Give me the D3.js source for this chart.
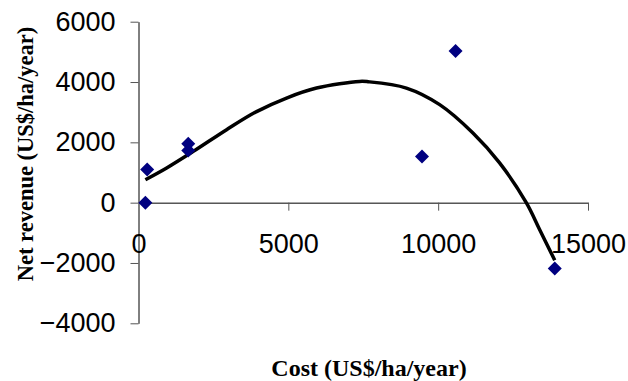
<!DOCTYPE html>
<html>
<head>
<meta charset="utf-8">
<script src="https://cdn.jsdelivr.net/npm/d3@7"></script>
<style>
  html, body { margin: 0; padding: 0; background: #fff; }
  svg { display: block; }
</style>
</head>
<body>
<svg id="chart" width="628" height="381"></svg>
<script>
// Data
const costs   = [230, 290, 1660, 1660, 9460, 10580, 13890];
const revenue = [0, 1100, 1950, 1730, 1530, 5025, -2180];

// Trendline samples
const trendX = [230, 940, 1830, 2940, 3940, 4940, 5940, 7380, 7660, 8940, 10050, 11160, 12050, 12940, 13380, 13890];
const trendY = [760, 1150, 1700, 2420, 3020, 3470, 3800, 4020, 4010, 3800, 3250, 2310, 1320, 0, -880, -1910];

const xTicks = [0, 5000, 10000, 15000];
const yTicks = [-4000, -2000, 0, 2000, 4000, 6000];

const xTitle = "Cost (US$/ha/year)";
const yTitle = "Net revenue (US$/ha/year)";

const svg = d3.select("#chart");

const x = d3.scaleLinear().domain([0, 15000]).range([138.5, 588]);
const y = d3.scaleLinear().domain([-4000, 6000]).range([323.3, 21.7]);

const tickFont = "'Liberation Sans', Arial, sans-serif";
const titleFont = "'Liberation Serif', 'Times New Roman', serif";

// Y axis
const yAxis = svg.append("g")
  .attr("transform", `translate(${x(0)},0)`)
  .call(d3.axisLeft(y).tickValues(yTicks).tickFormat(d3.format("d")).tickSizeInner(8).tickSizeOuter(0).tickPadding(15));
yAxis.select(".domain").attr("stroke", "#000").attr("stroke-width", 1);
yAxis.selectAll(".tick line").attr("stroke", "#555");
yAxis.selectAll(".tick text")
  .attr("font-family", tickFont).attr("font-size", 27).attr("fill", "#000")
  .attr("dy", "0.32em");

// X axis (crosses at y = 0)
const xAxis = svg.append("g")
  .attr("transform", `translate(0,${y(0)})`)
  .call(d3.axisBottom(x).tickValues(xTicks).tickFormat(d3.format("d")).tickSizeInner(8).tickSizeOuter(0).tickPadding(0));
xAxis.select(".domain").attr("stroke", "#000").attr("stroke-width", 1);
xAxis.selectAll(".tick line").attr("stroke", "#555").filter(d => d === 0).remove();
xAxis.selectAll(".tick text")
  .attr("font-family", tickFont).attr("font-size", 27).attr("fill", "#000")
  .attr("dy", null).attr("y", 50);

// Trendline
const trend = trendX.map((d, i) => [d, trendY[i]]);
svg.append("path")
  .datum(trend)
  .attr("fill", "none")
  .attr("stroke", "#000")
  .attr("stroke-width", 3.5)
  .attr("d", d3.line().x(d => x(d[0])).y(d => y(d[1])).curve(d3.curveCatmullRom.alpha(0.5)));

// Points (diamonds)
const pts = costs.map((d, i) => [d, revenue[i]]);
svg.append("g").selectAll("path")
  .data(pts)
  .join("path")
  .attr("transform", d => `translate(${x(d[0])},${y(d[1])}) rotate(45)`)
  .attr("d", d3.symbol(d3.symbolSquare, 98))
  .attr("fill", "#000080");

// Axis titles
svg.append("text")
  .attr("x", 369).attr("y", 376)
  .attr("text-anchor", "middle")
  .attr("font-family", titleFont).attr("font-weight", "bold").attr("font-size", 24)
  .text(xTitle);

svg.append("text")
  .attr("transform", "translate(33,154) rotate(-90)")
  .attr("text-anchor", "middle")
  .attr("font-family", titleFont).attr("font-weight", "bold").attr("font-size", 22.5)
  .text(yTitle);
</script>
</body>
</html>
